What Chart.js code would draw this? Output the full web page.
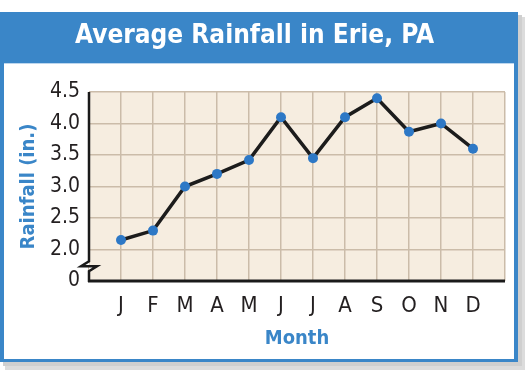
<!DOCTYPE html>
<html>
<head>
<meta charset="utf-8">
<script src="https://cdn.jsdelivr.net/npm/chart.js@4"></script>
<style>
  html, body { margin: 0; padding: 0; background: #ffffff; }
  #wrap { position: absolute; left: 0; top: 0; width: 529px; height: 373px; }
</style>
</head>
<body>
<div id="wrap"><canvas id="c" width="529" height="373"></canvas></div>
<script>
// ---- data ----
const months = ['J','F','M','A','M','J','J','A','S','O','N','D'];
const rainfall = [2.15, 2.3, 3.0, 3.2, 3.42, 4.1, 3.45, 4.1, 4.4, 3.87, 4.0, 3.6];
const yTickValues = [1.5, 2.0, 2.5, 3.0, 3.5, 4.0, 4.5];
const yTickLabels = ['0', '2.0', '2.5', '3.0', '3.5', '4.0', '4.5'];
const chartTitle = 'Average Rainfall in Erie, PA';
const xTitle = 'Month';
const yTitle = 'Rainfall (in.)';

const BLUE = '#3a86c8';
const POINT_BLUE = '#2d78c6';
const FONT = "'Liberation Sans Narrow', 'DejaVu Sans Condensed', 'Liberation Sans', sans-serif";

const framePlugin = {
  id: 'frame',
  beforeDraw(chart) {
    const ctx = chart.ctx;
    const a = chart.chartArea;
    ctx.save();
    // shadow
    ctx.fillStyle = '#dcdcdc';
    ctx.fillRect(5, 17, 520, 353);
    ctx.fillStyle = '#cfcfcf';
    ctx.fillRect(3, 15, 519, 351);
    // blue frame
    ctx.fillStyle = BLUE;
    ctx.fillRect(0, 12, 518, 350);
    // inner white
    ctx.fillStyle = '#ffffff';
    ctx.fillRect(4, 63, 510, 296);
    ctx.fillStyle = '#bcd6ee';
    ctx.fillRect(4, 63, 510, 1);
    // plot background
    ctx.fillStyle = '#f6ede0';
    ctx.fillRect(a.left, a.top, a.right - a.left, a.bottom - a.top);
    ctx.restore();
  },
  beforeDatasetsDraw(chart) {
    const ctx = chart.ctx;
    const a = chart.chartArea;
    const y = chart.scales.y;
    const yBreak = (y.getPixelForValue(2.0) + y.getPixelForValue(1.5)) / 2 - 2;
    ctx.save();
    ctx.strokeStyle = '#1a1a1a';
    ctx.lineCap = 'butt';
    // bottom axis
    ctx.lineWidth = 3;
    ctx.beginPath();
    ctx.moveTo(a.left - 1, a.bottom);
    ctx.lineTo(a.right, a.bottom);
    ctx.stroke();
    // white notch for break
    ctx.fillStyle = '#ffffff';
    ctx.beginPath();
    ctx.moveTo(a.left - 8, yBreak + 3);
    ctx.lineTo(a.left + 8, yBreak + 3);
    ctx.lineTo(a.left, yBreak + 8);
    ctx.lineTo(a.left, yBreak - 2);
    ctx.closePath();
    ctx.fill();
    // left axis with break
    ctx.lineWidth = 2.5;
    ctx.lineJoin = 'miter';
    ctx.beginPath();
    ctx.moveTo(a.left, a.top);
    ctx.lineTo(a.left, yBreak - 2);
    ctx.lineTo(a.left - 8, yBreak + 3);
    ctx.lineTo(a.left + 8, yBreak + 3);
    ctx.lineTo(a.left, yBreak + 8);
    ctx.lineTo(a.left, a.bottom + 1);
    ctx.stroke();
    ctx.restore();
  }
};

new Chart(document.getElementById('c'), {
  type: 'line',
  data: {
    datasets: [{
      data: rainfall.map((v, i) => ({ x: i + 1, y: v })),
      borderColor: '#1c1c1c',
      borderWidth: 3.5,
      pointRadius: 5,
      pointHoverRadius: 5,
      pointBackgroundColor: POINT_BLUE,
      pointBorderColor: POINT_BLUE,
      pointBorderWidth: 0,
      tension: 0
    }]
  },
  options: {
    responsive: false,
    animation: false,
    devicePixelRatio: 1,
    layout: { padding: { left: 4, right: 24, top: 12, bottom: 14 } },
    plugins: {
      legend: { display: false },
      tooltip: { enabled: false },
      title: {
        display: true,
        text: chartTitle,
        color: '#ffffff',
        font: { family: FONT, size: 26, weight: 'bold', lineHeight: 1.2 },
        padding: { top: 8.5, bottom: 40.3 }
      }
    },
    scales: {
      x: {
        type: 'linear',
        min: 0,
        max: months.length + 1,
        afterBuildTicks(scale) {
          scale.ticks = Array.from({ length: months.length + 2 }, (_, i) => ({ value: i }));
        },
        afterFit(scale) { scale.height = 78; },
        ticks: {
          autoSkip: false,
          maxRotation: 0,
          padding: 12,
          color: '#231f20',
          font: { family: FONT, size: 22 },
          callback: (v) => months[v - 1] || ''
        },
        grid: { color: '#cbbca9', lineWidth: 1.5, drawTicks: false },
        border: { display: false },
        title: {
          display: true,
          text: xTitle,
          color: BLUE,
          font: { family: FONT, size: 20, weight: 'bold', lineHeight: 1.2 },
          padding: { top: 0, bottom: 8 }
        }
      },
      y: {
        type: 'linear',
        min: 1.5,
        max: 4.5,
        afterBuildTicks(scale) {
          scale.ticks = yTickValues.map(v => ({ value: v }));
        },
        afterFit(scale) { scale.width = 85; },
        ticks: {
          padding: 9,
          color: '#231f20',
          font: { family: FONT, size: 21 },
          callback: (v) => {
            const i = yTickValues.indexOf(v);
            return i >= 0 ? yTickLabels[i] : '';
          }
        },
        grid: { color: '#cbbca9', lineWidth: 1.5, drawTicks: false },
        border: { display: false },
        title: {
          display: true,
          text: yTitle,
          color: BLUE,
          font: { family: FONT, size: 20, weight: 'bold', lineHeight: 1.2 },
          padding: { top: 13, bottom: 0 }
        }
      }
    }
  },
  plugins: [framePlugin]
});
</script>
</body>
</html>
